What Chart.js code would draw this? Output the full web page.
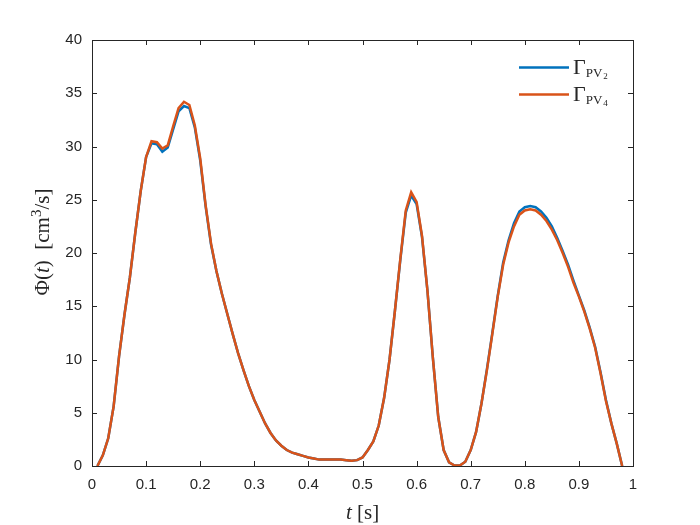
<!DOCTYPE html>
<html>
<head>
<meta charset="utf-8">
<script src="https://cdn.jsdelivr.net/npm/chart.js@4.4.1/dist/chart.umd.min.js"></script>
<style>
  html, body { margin: 0; padding: 0; background: #ffffff; }
  #wrap { width: 700px; height: 525px; position: relative; }
</style>
</head>
<body>
<div id="wrap"><canvas id="c" width="700" height="525"></canvas></div>
<script>
// ---- data ----
const timeValues = [
  0.01,0.02,0.03,0.04,0.05,0.06,0.07,0.08,0.09,0.10,
  0.11,0.12,0.13,0.14,0.15,0.16,0.17,0.18,0.19,0.20,
  0.21,0.22,0.23,0.24,0.25,0.26,0.27,0.28,0.29,0.30,
  0.31,0.32,0.33,0.34,0.35,0.36,0.37,0.38,0.39,0.40,
  0.41,0.42,0.43,0.44,0.45,0.46,0.47,0.48,0.49,0.50,
  0.51,0.52,0.53,0.54,0.55,0.56,0.57,0.58,0.59,0.60,
  0.61,0.62,0.63,0.64,0.65,0.66,0.67,0.68,0.69,0.70,
  0.71,0.72,0.73,0.74,0.75,0.76,0.77,0.78,0.79,0.80,
  0.81,0.82,0.83,0.84,0.85,0.86,0.87,0.88,0.89,0.90,
  0.91,0.92,0.93,0.94,0.95,0.96,0.97,0.98
];
const flowPV2 = [
  0.0,1.0,2.6,5.6,10.3,14.2,17.7,21.9,25.8,29.0,
  30.3,30.2,29.5,29.9,31.6,33.3,33.8,33.6,31.8,28.7,
  24.4,20.8,18.3,16.2,14.3,12.4,10.6,9.0,7.5,6.2,
  5.1,4.0,3.1,2.4,1.9,1.5,1.25,1.1,0.95,0.8,
  0.7,0.6,0.6,0.62,0.6,0.6,0.55,0.5,0.55,0.8,
  1.5,2.3,3.8,6.4,10.0,14.6,19.4,23.8,25.4,24.6,
  21.5,16.5,10.2,4.6,1.5,0.35,0.05,0.05,0.4,1.5,
  3.2,5.9,9.1,12.5,16.0,19.1,21.2,22.8,23.9,24.3,
  24.4,24.3,23.9,23.3,22.5,21.4,20.2,18.9,17.4,16.0,
  14.6,13.0,11.2,8.8,6.2,4.0,2.1,0.0
];
const flowPV4 = [
  0.0,1.0,2.6,5.6,10.3,14.2,17.7,21.9,25.8,29.0,
  30.5,30.4,29.8,30.1,31.9,33.6,34.2,33.9,32.0,28.9,
  24.5,20.9,18.3,16.2,14.3,12.4,10.6,9.0,7.5,6.2,
  5.1,4.0,3.1,2.4,1.9,1.5,1.25,1.1,0.95,0.8,
  0.7,0.6,0.6,0.62,0.6,0.6,0.55,0.5,0.55,0.8,
  1.5,2.3,3.8,6.4,10.0,14.6,19.5,24.0,25.7,24.8,
  21.6,16.5,10.2,4.6,1.5,0.35,0.05,0.05,0.4,1.5,
  3.2,5.9,9.0,12.4,15.9,18.9,21.0,22.5,23.6,24.0,
  24.1,24.0,23.6,23.0,22.2,21.2,20.0,18.7,17.2,15.9,
  14.5,12.9,11.1,8.7,6.1,4.0,2.1,0.0
];
const xTicks = [0,0.1,0.2,0.3,0.4,0.5,0.6,0.7,0.8,0.9,1];
const xTickLabels = ['0','0.1','0.2','0.3','0.4','0.5','0.6','0.7','0.8','0.9','1'];
const yTicks = [0,5,10,15,20,25,30,35,40];
const yTickLabels = ['0','5','10','15','20','25','30','35','40'];
const seriesNames = ['PV2','PV4'];
const seriesColors = ['#0072BD','#D95319'];

const AXIS_COLOR = '#262626';
const TICK_FONT = {family: '"Liberation Sans", Arial, sans-serif', size: 15};

function pts(ys) { return timeValues.map((t, i) => ({x: t, y: ys[i]})); }

const decorPlugin = {
  id: 'decor',
  afterDatasetsDraw(chart) {
    const ctx = chart.ctx;
    const a = chart.chartArea;
    const xs = chart.scales.x, ys = chart.scales.y;
    ctx.save();
    // box
    ctx.strokeStyle = AXIS_COLOR;
    ctx.lineWidth = 1;
    ctx.strokeRect(Math.round(a.left) + 0.5, Math.round(a.top) + 0.5,
                   Math.round(a.right - a.left), Math.round(a.bottom - a.top));
    // inward ticks on all four sides
    const L = 5;
    ctx.beginPath();
    xTicks.forEach(v => {
      const px = Math.round(xs.getPixelForValue(v)) + 0.5;
      ctx.moveTo(px, a.bottom); ctx.lineTo(px, a.bottom - L);
      ctx.moveTo(px, a.top); ctx.lineTo(px, a.top + L);
    });
    yTicks.forEach(v => {
      const py = Math.round(ys.getPixelForValue(v)) + 0.5;
      ctx.moveTo(a.left, py); ctx.lineTo(a.left + L, py);
      ctx.moveTo(a.right, py); ctx.lineTo(a.right - L, py);
    });
    ctx.stroke();

    // axis titles (mixed italic / upright serif)
    ctx.fillStyle = AXIS_COLOR;
    ctx.textBaseline = 'alphabetic';
    const serif = '"Liberation Serif", "DejaVu Serif", serif';
    function runs(parts) {
      let w = 0;
      parts.forEach(p => { ctx.font = p.f; p.w = ctx.measureText(p.t).width; w += p.w; });
      return w;
    }
    function drawRuns(parts, x0, y0) {
      let x = x0;
      parts.forEach(p => { ctx.font = p.f; ctx.fillText(p.t, x, y0 + (p.dy || 0)); x += p.w; });
    }
    const fs = 21;
    const xParts = [
      {t: 't', f: 'italic ' + fs + 'px ' + serif},
      {t: ' [s]', f: fs + 'px ' + serif}
    ];
    const xw = runs(xParts);
    const xc = (a.left + a.right) / 2;
    drawRuns(xParts, xc - xw / 2, 519);

    const yParts = [
      {t: 'Φ(', f: fs + 'px ' + serif},
      {t: 't', f: 'italic ' + fs + 'px ' + serif},
      {t: ')  [cm', f: fs + 'px ' + serif},
      {t: '3', f: Math.round(fs * 0.7) + 'px ' + serif, dy: -8},
      {t: '/s]', f: fs + 'px ' + serif}
    ];
    const yw = runs(yParts);
    ctx.save();
    ctx.translate(49, 242);
    ctx.rotate(-Math.PI / 2);
    drawRuns(yParts, -yw / 2, 0);
    ctx.restore();

    // legend
    const legendY = [67, 94];
    chart.data.datasets.forEach((ds, i) => {
      const y = legendY[i];
      ctx.strokeStyle = ds.borderColor;
      ctx.lineWidth = 2.5;
      ctx.beginPath();
      ctx.moveTo(519, y + 0.5); ctx.lineTo(569, y + 0.5);
      ctx.stroke();
      ctx.fillStyle = AXIS_COLOR;
      const name = seriesNames[i];
      const parts = [
        {t: 'Γ', f: '22px ' + serif},
        {t: name.slice(0, 2), f: '13px ' + serif, dy: 3.5},
        {t: name.slice(2), f: '9px ' + serif, dy: 5.5}
      ];
      runs(parts);
      parts[1].w += 1;
      drawRuns(parts, 573, y + 6.5);
    });
    ctx.restore();
  }
};

new Chart(document.getElementById('c'), {
  type: 'line',
  data: {
    datasets: [
      {label: 'Γ PV2', data: pts(flowPV2), borderColor: seriesColors[0], backgroundColor: seriesColors[0],
       borderWidth: 2.5, pointRadius: 0, tension: 0, fill: false, order: 2},
      {label: 'Γ PV4', data: pts(flowPV4), borderColor: seriesColors[1], backgroundColor: seriesColors[1],
       borderWidth: 2.5, pointRadius: 0, tension: 0, fill: false, order: 1}
    ]
  },
  options: {
    responsive: false,
    animation: false,
    devicePixelRatio: 1,
    layout: {padding: {left: 52, right: 67, top: 40, bottom: 29}},
    plugins: {legend: {display: false}, tooltip: {enabled: false}},
    scales: {
      x: {
        type: 'linear', min: 0, max: 1,
        afterBuildTicks: s => { s.ticks = xTicks.map(v => ({value: v})); },
        afterFit: s => { s.height = 30; },
        grid: {display: false, drawTicks: false},
        border: {display: false},
        ticks: {
          color: AXIS_COLOR, font: TICK_FONT, padding: 10, maxRotation: 0, autoSkip: false,
          callback: v => { const i = xTicks.findIndex(t => Math.abs(t - v) < 1e-9); return i >= 0 ? xTickLabels[i] : ''; }
        }
      },
      y: {
        type: 'linear', min: 0, max: 40,
        afterBuildTicks: s => { s.ticks = yTicks.map(v => ({value: v})); },
        afterFit: s => { s.width = 40; },
        grid: {display: false, drawTicks: false},
        border: {display: false},
        ticks: {
          color: AXIS_COLOR, font: TICK_FONT, padding: 10, autoSkip: false,
          callback: v => { const i = yTicks.indexOf(v); return i >= 0 ? yTickLabels[i] : ''; }
        }
      }
    }
  },
  plugins: [decorPlugin]
});
</script>
</body>
</html>
